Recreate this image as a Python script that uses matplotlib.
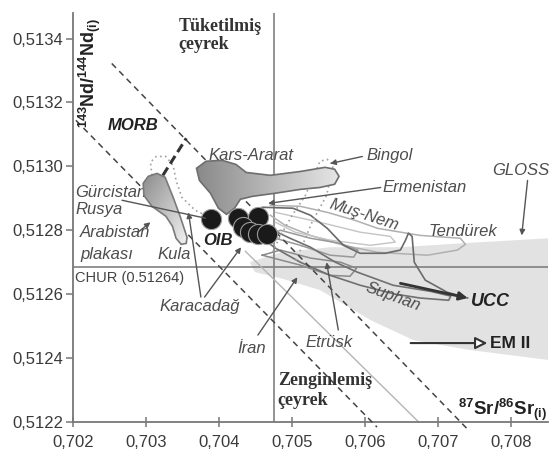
import numpy as np
import matplotlib
matplotlib.use("Agg")
import matplotlib.pyplot as plt
from matplotlib.patches import Polygon
from matplotlib.colors import LinearSegmentedColormap
from matplotlib.ticker import FuncFormatter

plt.rcParams['font.family'] = ['Liberation Sans', 'DejaVu Sans']
plt.rcParams['mathtext.fontset'] = 'custom'
plt.rcParams['mathtext.rm'] = 'Liberation Sans'
plt.rcParams['mathtext.it'] = 'Liberation Sans:italic'
plt.rcParams['mathtext.bf'] = 'Liberation Sans:bold'

# ---------------- data (87Sr/86Sr, 143Nd/144Nd) ----------------
x_ticks = [0.702, 0.703, 0.704, 0.705, 0.706, 0.707, 0.708]
y_ticks = [0.5122, 0.5124, 0.5126, 0.5128, 0.5130, 0.5132, 0.5134]

chur_sr = 0.70475
chur_nd = 0.512684

oib_sr = [0.70389, 0.70426, 0.70453, 0.70432, 0.70442, 0.70453, 0.70466]
oib_nd = [0.512834, 0.512838, 0.512841, 0.512809, 0.512794, 0.512788, 0.512788]

kars_sr = [0.70369, 0.70382, 0.70404, 0.70423, 0.70437, 0.70470, 0.70511, 0.70545, 0.70558, 0.70564,
           0.70558, 0.70538, 0.70511, 0.70477, 0.70445, 0.70429, 0.70421, 0.70410, 0.70399, 0.70388, 0.70373]
kars_nd = [0.512994, 0.513016, 0.513019, 0.513006, 0.512981, 0.512972, 0.512984, 0.512997, 0.512991, 0.512969,
           0.512944, 0.512934, 0.512928, 0.512916, 0.512906, 0.512897, 0.512869, 0.512850, 0.512869, 0.512916, 0.512956]

arab_sr = [0.70296, 0.70303, 0.70315, 0.70326, 0.70337, 0.70347, 0.70356, 0.70355, 0.70348, 0.70341,
           0.70336, 0.70327, 0.70308, 0.70297]
arab_nd = [0.512947, 0.512969, 0.512978, 0.512966, 0.512903, 0.512841, 0.512778, 0.512759, 0.512756, 0.512775,
           0.512813, 0.512844, 0.512875, 0.512909]

gloss_sr = [0.70442, 0.70484, 0.70552, 0.70648, 0.70730, 0.70851, 0.70851, 0.70744, 0.70666, 0.70607,
            0.70538, 0.70484, 0.70449]
gloss_nd = [0.512700, 0.512731, 0.512747, 0.512747, 0.512759, 0.512775, 0.512394, 0.512425, 0.512456, 0.512519,
            0.512613, 0.512650, 0.512669]

musnem_sr = [0.70470, 0.70511, 0.70548, 0.70586, 0.70617, 0.70675, 0.70730, 0.70737, 0.70726, 0.70685,
             0.70617, 0.70570, 0.70525, 0.70490, 0.70470]
musnem_nd = [0.512878, 0.512875, 0.512856, 0.512831, 0.512806, 0.512784, 0.512775, 0.512756, 0.512738, 0.512722,
             0.512731, 0.512753, 0.512784, 0.512816, 0.512847]

inner_sr = [0.70477, 0.70538, 0.70593, 0.70634, 0.70641, 0.70607, 0.70552, 0.70504, 0.70477]
inner_nd = [0.512856, 0.512825, 0.512794, 0.512781, 0.512763, 0.512753, 0.512769, 0.512794, 0.512825]

tend_sr = [0.70459, 0.70501, 0.70525, 0.70548, 0.70570, 0.70593, 0.70627, 0.70648, 0.70655, 0.70659,
           0.70664, 0.70667, 0.70682, 0.70712, 0.70740]
tend_nd = [0.512872, 0.512869, 0.512847, 0.512806, 0.512753, 0.512728, 0.512728, 0.512738, 0.512769, 0.512791,
           0.512781, 0.512700, 0.512644, 0.512606, 0.512588]

suphan_sr = [0.70459, 0.70497, 0.70525, 0.70559, 0.70589, 0.70638, 0.70689, 0.70717, 0.70714, 0.70675,
             0.70641, 0.70593, 0.70552, 0.70511, 0.70477, 0.70459]
suphan_nd = [0.512816, 0.512775, 0.512747, 0.512700, 0.512669, 0.512628, 0.512609, 0.512594, 0.512581, 0.512588,
             0.512600, 0.512628, 0.512659, 0.512700, 0.512744, 0.512775]

loop_e_sr = [0.70463, 0.70511, 0.70552, 0.70584, 0.70590, 0.70566, 0.70525, 0.70484, 0.70463]
loop_e_nd = [0.512784, 0.512753, 0.512722, 0.512716, 0.512738, 0.512759, 0.512775, 0.512800, 0.512784]

loop_f_sr = [0.70459, 0.70511, 0.70552, 0.70579, 0.70588, 0.70566, 0.70525, 0.70484, 0.70459]
loop_f_nd = [0.512722, 0.512691, 0.512659, 0.512656, 0.512681, 0.512700, 0.512713, 0.512738, 0.512722]

morb_dot_sr = [0.70308, 0.70306, 0.70314, 0.70327, 0.70337, 0.70341, 0.70349, 0.70367, 0.70381]
morb_dot_nd = [0.512972, 0.513013, 0.513031, 0.513031, 0.513003, 0.512956, 0.512903, 0.512863, 0.512847]

bingol_sr = [0.70473, 0.70484, 0.70500, 0.70518, 0.70538, 0.70548, 0.70556, 0.70547, 0.70527, 0.70514, 0.70504]
bingol_nd = [0.512731, 0.512784, 0.512847, 0.512909, 0.513016, 0.513022, 0.513003, 0.512909, 0.512825, 0.512753, 0.512700]

mantle_upper_sr = [0.70253, 0.70741]
mantle_upper_nd = [0.513322, 0.512175]
mantle_lower_sr = [0.70204, 0.70616]
mantle_lower_nd = [0.513144, 0.512184]
light_diag_sr = [0.70436, 0.70673]
light_diag_nd = [0.512734, 0.512200]
morb_dash_sr = [0.70323, 0.70355]
morb_dash_nd = [0.512972, 0.513088]

# ---------------- figure ----------------
fig = plt.figure(figsize=(5.51, 4.61), dpi=100)
ax = fig.add_axes([0.1325, 0.0846, 0.8621, 0.8872])

GRAY_TXT = '#4d4d4d'

# GLOSS band
ax.add_patch(Polygon(np.column_stack([gloss_sr, gloss_nd]), closed=True,
                     fc='#e2e2e2', ec='none', zorder=1))

# reference lines
ax.axvline(chur_sr, color='#808080', lw=1.2, zorder=2)
ax.axhline(chur_nd, color='#808080', lw=1.2, zorder=2)

# light diagonal
ax.plot(light_diag_sr, light_diag_nd, color='#b5b5b5', lw=1.0, zorder=2)

# field outlines
ax.plot(musnem_sr, musnem_nd, color='#b0b0b0', lw=1.1, zorder=3)
ax.plot(inner_sr, inner_nd, color='#c4c4c4', lw=1.0, zorder=3)
ax.plot(loop_e_sr, loop_e_nd, color='#999999', lw=1.1, zorder=3)
ax.plot(loop_f_sr, loop_f_nd, color='#8a8a8a', lw=1.1, zorder=3)
ax.plot(suphan_sr, suphan_nd, color='#707070', lw=1.2, zorder=3)
ax.plot(tend_sr, tend_nd, color='#6a6a6a', lw=1.2, zorder=3)

# dotted fields
ax.plot(morb_dot_sr, morb_dot_nd, color='#a0a0a0', lw=1.2, ls=(0, (1, 2)), zorder=3)
ax.plot(bingol_sr, bingol_nd, color='#a0a0a0', lw=1.2, ls=(0, (1, 2)), zorder=3)

# mantle array dashed lines
ax.plot(mantle_upper_sr, mantle_upper_nd, color='#444444', lw=1.1, ls=(0, (4, 3)), zorder=3, clip_on=False)
ax.plot(mantle_lower_sr, mantle_lower_nd, color='#444444', lw=1.1, ls=(0, (4, 3)), zorder=3, clip_on=False)
ax.plot(morb_dash_sr, morb_dash_nd, color='#333333', lw=2.2, ls=(0, (3, 1.5)), zorder=3)


def grad_fill(xs, ys, c0, c1, mode, z, ec):
    poly = Polygon(np.column_stack([xs, ys]), closed=True, fc='none', ec=ec, lw=1.2, zorder=z + 0.1)
    ax.add_patch(poly)
    n = 200
    jj, ii = np.meshgrid(np.linspace(0, 1, n), np.linspace(0, 1, n))
    if mode == 'h':
        g = jj
    else:
        g = (jj + (1 - ii)) / 2
    cmap = LinearSegmentedColormap.from_list('g', [c0, c1])
    im = ax.imshow(g, extent=[min(xs), max(xs), min(ys), max(ys)], origin='lower',
                   cmap=cmap, aspect='auto', zorder=z, interpolation='bilinear')
    im.set_clip_path(poly)


grad_fill(kars_sr, kars_nd, '#8a8a8a', '#e6e6e6', 'h', 4, '#6e6e6e')
grad_fill(arab_sr, arab_nd, '#8c8c8c', '#f2f2f2', 'd', 4, '#7a7a7a')

# OIB
ax.scatter(oib_sr, oib_nd, s=210, color='#1a1a1a', edgecolors='#9a9a9a', linewidths=0.8, zorder=6)

# leader lines / arrows
def arrow(x0, y0, x1, y1, head=True, color='#555555', lw=1.0, ms=8):
    ax.annotate('', xy=(x1, y1), xytext=(x0, y0),
                arrowprops=dict(arrowstyle='-|>' if head else '-', color=color, lw=lw,
                                mutation_scale=ms, shrinkA=0, shrinkB=0), zorder=7)

arrow(0.70267, 0.512894, 0.70381, 0.512838, head=False)          # Gürcistan-Rusya
arrow(0.70289, 0.512794, 0.70306, 0.512825)                      # Arabistan
arrow(0.70375, 0.512591, 0.70358, 0.512856)                      # Karacadağ 1
arrow(0.70380, 0.512591, 0.70430, 0.512747)                      # Karacadağ 2
arrow(0.70453, 0.512472, 0.70507, 0.512653)                      # İran
arrow(0.70563, 0.512488, 0.70547, 0.512700)                      # Etrüsk
arrow(0.70596, 0.513031, 0.70552, 0.513009)                      # Bingol
arrow(0.70621, 0.512934, 0.70467, 0.512884)                      # Ermenistan
arrow(0.70822, 0.512956, 0.70814, 0.512784)                      # GLOSS
arrow(0.70648, 0.512634, 0.70740, 0.512588, color='#333333', lw=2.0, ms=12)   # UCC
ax.annotate('', xy=(0.70767, 0.512447), xytext=(0.70662, 0.512447),
            arrowprops=dict(arrowstyle='-|>', ec='#333333', fc='white', lw=1.5,
                            mutation_scale=18, shrinkA=0, shrinkB=0), zorder=7)

# ---------------- labels ----------------
def lab(x, y, s, **kw):
    d = dict(fontsize=12, style='italic', color=GRAY_TXT, va='center', ha='left', zorder=8)
    d.update(kw)
    ax.text(x, y, s, **d)

serif = dict(family='Liberation Serif', style='normal', weight='bold',
             fontsize=13, color='#333333', va='baseline')
lab(0.70344, 0.513425, 'Tüketilmiş', **serif)
lab(0.70344, 0.513366, 'çeyrek', **serif)
lab(0.70480, 0.512316, 'Zenginlemiş', **serif)
lab(0.70480, 0.512254, 'çeyrek', **serif)

lab(0.70247, 0.513128, 'MORB', weight='bold', color='#222222')
lab(0.70385, 0.513034, 'Kars-Ararat')
lab(0.70601, 0.513034, 'Bingol')
lab(0.70623, 0.512934, 'Ermenistan')
lab(0.70599, 0.512847, 'Muş-Nem', ha='center', rotation=-18, rotation_mode='anchor')
lab(0.70686, 0.512797, 'Tendürek')
lab(0.70774, 0.512988, 'GLOSS')
lab(0.70203, 0.512919, 'Gürcistan', zorder=3.5)
lab(0.70203, 0.512866, 'Rusya')
lab(0.70210, 0.512794, 'Arabistan')
lab(0.70210, 0.512725, 'plakası')
lab(0.70315, 0.512725, 'Kula')
lab(0.70378, 0.512769, 'OIB', weight='bold', color='#222222')
lab(0.70203, 0.512650, 'CHUR (0.51264)', style='normal', fontsize=10.5, color='#444444')
lab(0.70319, 0.512563, 'Karacadağ')
lab(0.70425, 0.512431, 'İran')
lab(0.70518, 0.512450, 'Etrüsk')
lab(0.70638, 0.512591, 'Suphan', ha='center', rotation=-20, rotation_mode='anchor')
lab(0.70744, 0.512578, 'UCC', weight='bold', color='#222222', fontsize=13)
lab(0.70771, 0.512447, 'EM II', style='normal', weight='bold', color='#222222', fontsize=12.5)

# axis titles (inside the frame)
ax.text(0.036, 0.988, r'$\mathbf{^{143}Nd/^{144}Nd_{(i)}}$', transform=ax.transAxes,
        rotation=90, ha='center', va='top', fontsize=13, color='#222222', zorder=8)
ax.text(0.998, 0.017, r'$\mathbf{^{87}Sr/^{86}Sr_{(i)}}$', transform=ax.transAxes,
        ha='right', va='baseline', fontsize=13.5, color='#222222', zorder=8)

# ---------------- axes styling ----------------
ax.set_xlim(0.702, 0.7085)
ax.set_ylim(0.5122, 0.51348)
ax.set_xticks(x_ticks)
ax.set_yticks(y_ticks)
ax.xaxis.set_major_formatter(FuncFormatter(lambda v, p: f'{v:.3f}'.replace('.', ',')))
ax.yaxis.set_major_formatter(FuncFormatter(lambda v, p: f'{v:.4f}'.replace('.', ',')))
for side in ('top', 'right'):
    ax.spines[side].set_visible(False)
for side in ('left', 'bottom'):
    ax.spines[side].set_color('#777777')
    ax.spines[side].set_linewidth(1.3)
ax.tick_params(axis='y', direction='out', length=5, width=1.1, color='#777777',
               labelsize=12, labelcolor='#3a3a3a', pad=2)
ax.tick_params(axis='x', direction='inout', length=7, width=1.1, color='#777777',
               labelsize=12, labelcolor='#3a3a3a', pad=6)
ax.set_facecolor('white')

fig.savefig('out.png', dpi=100)
